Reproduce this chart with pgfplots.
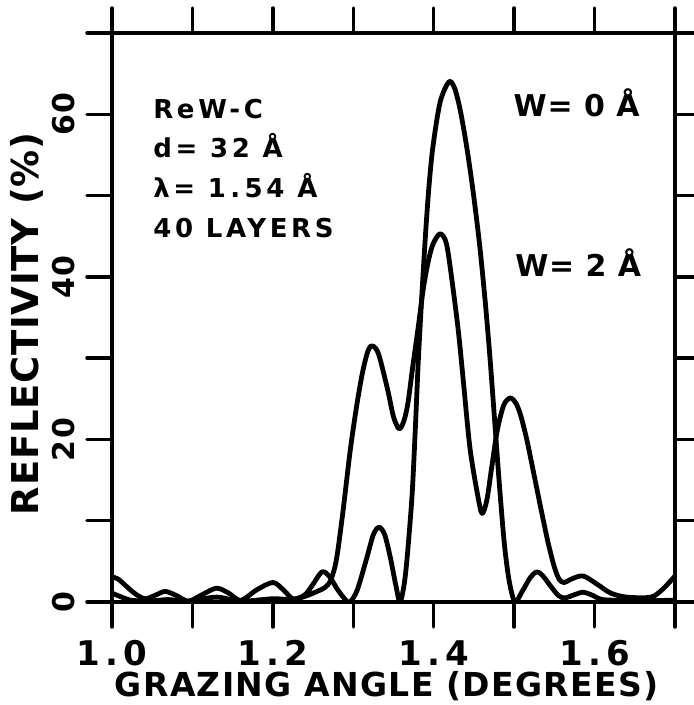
\documentclass[border=0pt]{standalone}
\usepackage{fontspec}
\usepackage{pgfplots}
\pgfplotsset{compat=1.18}
\setmainfont{DejaVu Sans}
\newfontfamily\xtickfont{DejaVu Sans Bold}[LetterSpace=16]
\newfontfamily\ytickfont{DejaVu Sans Bold}[LetterSpace=5]
\newfontfamily\xlabfont{DejaVu Sans Bold}[LetterSpace=4]
\newfontfamily\ylabfont{DejaVu Sans Bold}[LetterSpace=2]
\newfontfamily\notefont{DejaVu Sans Bold}[LetterSpace=14]
\newfontfamily\wfont{DejaVu Sans Bold}[LetterSpace=3]

\tikzset{curve/.style={black, line width=4.8pt, line join=round, line cap=round, smooth, tension=0.5, mark=none}}

\begin{document}
\begin{tikzpicture}
\begin{axis}[
  at={(112pt,103pt)}, anchor=south west,
  scale only axis, width=563pt, height=569pt,
  xmin=1.0, xmax=1.7, ymin=0, ymax=70,
  xtick={1.0,1.1,1.2,1.3,1.4,1.5,1.6,1.7},
  xticklabels={1.0,{},1.2,{},1.4,{},1.6,{}},
  ytick={0,10,20,30,40,50,60,70},
  yticklabels={0,{},20,{},40,{},60,{}},
  xtick pos=both, ytick pos=both,
  tick align=outside,
  major tick length=25pt,
  major tick style={line width=3.5pt, black, line cap=round},
  axis line style={line width=4pt, line cap=round},
  axis on top,
  xticklabel style={font=\xtickfont\fontsize{34}{34}\selectfont, anchor=north},
  xticklabel shift=10pt,
  yticklabel style={font=\ytickfont\fontsize{30}{30}\selectfont, rotate=90, anchor=south},
  yticklabel shift=9pt,
  xlabel={GRAZING ANGLE (DEGREES)},
  ylabel={REFLECTIVITY (\%)},
  xlabel style={font=\xlabfont\fontsize{33}{33}\selectfont, at={(axis description cs:0.488,-0.148)}, anchor=center},
  ylabel style={font=\ylabfont\fontsize{37}{37}\selectfont, at={(axis description cs:-0.151,0.489)}, anchor=center, rotate=0},
]
% interface width 2 A
\addplot[curve] coordinates {
(1.000,3.1)(1.008,2.8)(1.016,2.1)(1.029,1.0)(1.041,0.4)(1.053,0.8)(1.066,1.3)
(1.080,0.8)(1.095,0.1)(1.112,0.9)(1.130,1.7)(1.145,1.1)(1.160,0.2)(1.180,1.5)
(1.200,2.4)(1.213,1.5)(1.225,0.4)(1.240,0.7)(1.255,1.3)(1.265,1.8)(1.272,2.7)
(1.279,5.2)(1.287,11.0)(1.296,18.5)(1.304,24.0)(1.311,28.0)(1.317,30.5)(1.322,31.5)
(1.328,31.2)(1.333,30.0)(1.343,26.0)(1.350,22.8)(1.357,21.3)(1.363,22.3)(1.368,24.5)
(1.374,29.0)(1.381,34.0)(1.387,38.5)(1.393,41.8)(1.399,44.0)(1.408,45.3)(1.416,44.0)
(1.424,38.6)(1.431,33.0)(1.437,27.0)(1.445,19.0)(1.454,13.5)(1.460,10.9)(1.466,12.5)
(1.472,16.5)(1.479,21.1)(1.487,24.2)(1.495,25.1)(1.502,24.5)(1.508,23.0)(1.515,20.3)
(1.522,17.0)(1.532,12.1)(1.542,7.4)(1.550,4.3)(1.556,2.8)(1.562,2.4)(1.573,2.9)
(1.586,3.2)(1.603,2.2)(1.620,1.1)(1.640,0.6)(1.670,0.6)(1.685,1.6)(1.700,3.2)
};
% interface width 0 A
\addplot[curve] coordinates {
(1.000,1.1)(1.012,0.6)(1.025,0.2)(1.050,0.15)(1.070,0.3)(1.095,0.1)(1.130,0.6)
(1.160,0.1)(1.200,0.4)(1.225,0.3)(1.240,0.9)(1.250,2.2)(1.261,3.7)(1.270,3.2)
(1.280,1.6)(1.290,0.3)(1.296,0.0)(1.305,1.5)(1.317,5.5)(1.325,8.3)(1.332,9.2)
(1.339,8.3)(1.346,5.5)(1.353,2.0)(1.358,0.0)(1.363,2.0)(1.367,5.5)(1.373,13.0)
(1.377,21.0)(1.381,30.0)(1.386,39.0)(1.390,45.5)(1.394,51.0)(1.399,56.0)(1.408,61.5)
(1.419,64.0)(1.426,63.2)(1.433,60.5)(1.441,56.0)(1.449,50.5)(1.457,44.0)(1.464,37.0)
(1.470,30.0)(1.476,22.0)(1.482,14.0)(1.488,7.0)(1.494,2.5)(1.501,0.0)(1.510,1.3)
(1.520,3.0)(1.528,3.7)(1.535,3.3)(1.545,2.0)(1.555,0.8)(1.563,0.5)(1.575,0.9)
(1.586,1.2)(1.598,0.8)(1.610,0.3)(1.640,0.2)(1.700,0.2)
};
\node[anchor=base west, font=\notefont\fontsize{26}{26}\selectfont] at (axis cs:1.047,59.5) {ReW-C};
\node[anchor=base west, font=\notefont\fontsize{26}{26}\selectfont] at (axis cs:1.047,54.7) {d= 32 Å};
\node[anchor=base west, font=\notefont\fontsize{26}{26}\selectfont] at (axis cs:1.047,49.8) {λ= 1\,.\,54\enspace Å};
\node[anchor=base west, font=\notefont\fontsize{26}{26}\selectfont] at (axis cs:1.047,44.9) {40 LAYERS};
\node[anchor=base west, font=\wfont\fontsize{30}{30}\selectfont] at (axis cs:1.495,59.7) {W= 0 Å};
\node[anchor=base west, font=\wfont\fontsize{30}{30}\selectfont] at (axis cs:1.497,40.0) {W= 2 Å};
\end{axis}
\pgfresetboundingbox
\path[use as bounding box] (0,0) rectangle (694pt,705pt);
\end{tikzpicture}
\end{document}
